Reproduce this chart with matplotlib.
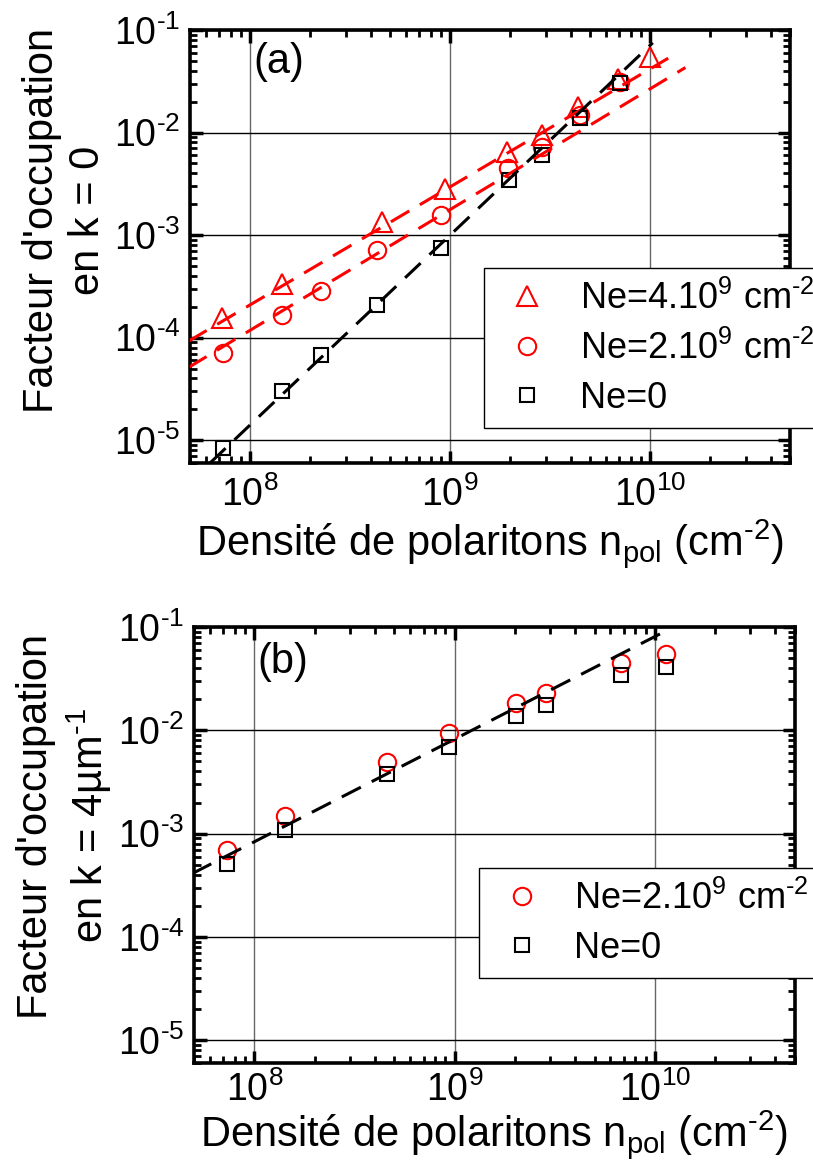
import matplotlib
matplotlib.use('Agg')
import matplotlib.pyplot as plt
from matplotlib.ticker import LogLocator, NullFormatter, FuncFormatter
import numpy as np

plt.rcParams['font.family'] = ['Liberation Sans', 'DejaVu Sans']
plt.rcParams['mathtext.fontset'] = 'custom'
plt.rcParams['mathtext.rm'] = 'Liberation Sans'
plt.rcParams['mathtext.it'] = 'Liberation Sans:italic'
plt.rcParams['mathtext.bf'] = 'Liberation Sans:bold'

# (a) occupation en k = 0
xa_tri = [7.2e7, 1.45e8, 4.55e8, 9.4e8, 1.92e9, 2.88e9, 4.35e9, 6.9e9, 1.0e10]
ya_tri = [1.55e-4, 3.3e-4, 1.33e-3, 2.8e-3, 6.4e-3, 9.4e-3, 1.77e-2, 3.3e-2, 5.4e-2]
xa_circ = [7.3e7, 1.45e8, 2.26e8, 4.3e8, 9.0e8, 1.95e9, 2.88e9, 4.45e9, 7.05e9]
ya_circ = [7.1e-5, 1.67e-4, 2.87e-4, 7.1e-4, 1.58e-3, 4.5e-3, 7.3e-3, 1.49e-2, 3.1e-2]
xa_sq = [7.3e7, 1.45e8, 2.26e8, 4.3e8, 9.0e8, 1.97e9, 2.88e9, 4.45e9, 7.05e9]
ya_sq = [8.4e-6, 3.0e-5, 6.8e-5, 2.07e-4, 7.5e-4, 3.45e-3, 6.1e-3, 1.38e-2, 3.07e-2]

# droites d'ajustement (extremites)
fit_a_tri_x = [4.9e7, 1.23e10]
fit_a_tri_y = [9.2e-5, 5.3e-2]
fit_a_circ_x = [4.9e7, 1.5e10]
fit_a_circ_y = [5.1e-5, 4.3e-2]
fit_a_sq_x = [6.3e7, 1.03e10]
fit_a_sq_y = [6.0e-6, 7.5e-2]

# (b) occupation en k = 4 um-1
xb = [7.3e7, 1.42e8, 4.58e8, 9.4e8, 2.02e9, 2.86e9, 6.8e9, 1.14e10]
yb_circ = [6.9e-4, 1.47e-3, 4.97e-3, 9.35e-3, 1.83e-2, 2.29e-2, 4.54e-2, 5.5e-2]
yb_sq = [5.1e-4, 1.09e-3, 3.77e-3, 6.9e-3, 1.38e-2, 1.76e-2, 3.4e-2, 4.15e-2]
fit_b_x = [4.9e7, 1.2e10]
fit_b_y = [4.1e-4, 9.7e-2]

HY = '\u2010'  # tiret court comme sur l'original
lab4 = 'Ne=4.10$^{9}$ cm$^{' + HY + '2}$'
lab2 = 'Ne=2.10$^{9}$ cm$^{' + HY + '2}$'
lab0 = 'Ne=0'
xlab = 'Densité de polaritons n$_{\\mathrm{pol}}$ (cm$^{' + HY + '2}$)'


def puiss10(v, pos):
    e = int(round(np.log10(v)))
    s = str(e).replace('-', HY)
    return '10$^{' + s + '}$'


fig = plt.figure(figsize=(8.13, 11.75), dpi=100)
ax1 = fig.add_axes([0.2337, 0.606, 0.738, 0.3685])
ax2 = fig.add_axes([0.2386, 0.0953, 0.739, 0.371])

dash = (7, 4)
red = '#ff0000'


def style(ax, xpad, xlabelpad):
    ax.set_xscale('log')
    ax.set_yscale('log')
    ax.set_xlim(5e7, 5e10)
    ax.set_ylim(6e-6, 1e-1)
    ax.xaxis.set_major_locator(LogLocator(base=10, numticks=10))
    ax.yaxis.set_major_locator(LogLocator(base=10, numticks=10))
    ax.xaxis.set_minor_locator(LogLocator(base=10, subs=range(2, 10), numticks=20))
    ax.yaxis.set_minor_locator(LogLocator(base=10, subs=range(2, 10), numticks=20))
    ax.xaxis.set_major_formatter(FuncFormatter(puiss10))
    ax.yaxis.set_major_formatter(FuncFormatter(puiss10))
    ax.xaxis.set_minor_formatter(NullFormatter())
    ax.yaxis.set_minor_formatter(NullFormatter())
    ax.grid(True, which='major', axis='x', color='#666666', lw=1.0)
    ax.grid(True, which='major', axis='y', color='black', lw=1.0)
    ax.set_axisbelow(True)
    ax.tick_params(which='major', direction='in', top=True, right=True,
                   length=9, width=2.5, labelsize=27)
    ax.tick_params(which='minor', direction='in', top=True, right=True,
                   length=5, width=2)
    ax.tick_params(axis='x', which='major', pad=xpad)
    ax.tick_params(axis='y', which='major', pad=7)
    for s in ax.spines.values():
        s.set_linewidth(2.6)
    ax.set_xlabel(xlab, fontsize=30, labelpad=xlabelpad)


leg_kw = dict(fontsize=26, frameon=True, fancybox=False, edgecolor='black',
              framealpha=1, numpoints=1, handlelength=1.7, handletextpad=0.6,
              borderpad=0.35, labelspacing=0.38, borderaxespad=0)

# --- (a)
ax1.plot(xa_tri, ya_tri, ls='none', marker='^', ms=14, mfc='none', mec=red, mew=1.5, label=lab4)
ax1.plot(xa_circ, ya_circ, ls='none', marker='o', ms=12.5, mfc='none', mec=red, mew=1.5, label=lab2)
ax1.plot(xa_sq, ya_sq, ls='none', marker='s', ms=10, mfc='none', mec='black', mew=1.5, label=lab0)
ax1.plot(fit_a_tri_x, fit_a_tri_y, color=red, lw=2.2, dashes=dash, zorder=3)
ax1.plot(fit_a_circ_x, fit_a_circ_y, color=red, lw=2.2, dashes=dash, zorder=3)
ax1.plot(fit_a_sq_x, fit_a_sq_y, color='black', lw=2.2, dashes=dash, zorder=3)
style(ax1, 10, 2)
ax1.text(0.105, 0.925, '(a)', transform=ax1.transAxes, fontsize=30, va='center', ha='left')
leg1 = ax1.legend(loc='upper left', bbox_to_anchor=(0.49, 0.45), **leg_kw)
leg1.get_frame().set_linewidth(1.0)

# --- (b)
ax2.plot(xb, yb_circ, ls='none', marker='o', ms=12.5, mfc='none', mec=red, mew=1.5, label=lab2)
ax2.plot(xb, yb_sq, ls='none', marker='s', ms=10, mfc='none', mec='black', mew=1.5, label=lab0)
ax2.plot(fit_b_x, fit_b_y, color='black', lw=2.2, dashes=dash, zorder=3)
style(ax2, 6, -1)
ax2.text(0.105, 0.92, '(b)', transform=ax2.transAxes, fontsize=30, va='center', ha='left')
leg2 = ax2.legend(loc='upper left', bbox_to_anchor=(0.474, 0.447), **leg_kw)
leg2.get_frame().set_linewidth(1.0)

# ylabels
fig.text(0.08, 1 - 220 / 1175, "Facteur d'occupation\nen k = 0", rotation=90,
         ha='center', va='center', multialignment='center', fontsize=30)
fig.text(0.08, 1 - 826 / 1175, "Facteur d'occupation\nen k = 4µm$^{" + HY + "1}$", rotation=90,
         ha='center', va='center', multialignment='center', fontsize=30)

fig.savefig('out.png', dpi=100)
